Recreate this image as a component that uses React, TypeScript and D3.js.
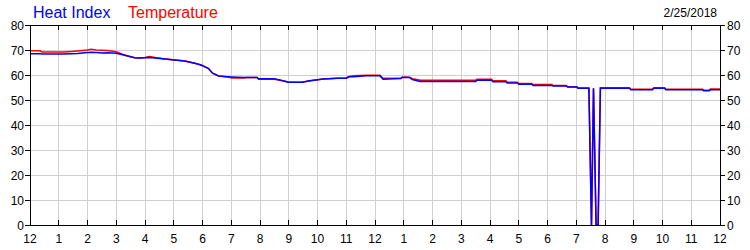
import React from "react";
import * as d3 from "d3";

const hours = [0,0.35,0.42,1.2,1.65,2.0,2.12,2.3,2.5,2.7,3.0,3.3,3.64,3.8,4.0,4.16,4.35,4.7,5.03,5.38,5.73,5.95,6.2,6.35,6.56,6.96,7.0,7.45,7.5,7.9,7.95,8.5,8.87,8.98,9.46,9.74,10.2,10.7,11.0,11.1,11.25,11.7,12.17,12.28,12.9,12.95,13.2,13.3,13.5,13.57,15.5,15.55,16.05,16.1,16.55,16.6,16.95,17.0,17.45,17.5,18.15,18.2,18.65,18.7,19.02,19.06,19.44,19.53,19.6,19.69,19.76,19.84,20.85,20.9,21.65,21.7,22.07,22.12,23.39,23.43,23.63,23.67,24.0];
const temperature = [69.7,69.7,69.2,69.2,69.6,70.0,70.3,70.0,69.9,69.8,69.3,67.9,66.9,66.8,67.0,67.4,67.0,66.4,66.0,65.6,64.7,64.0,62.7,60.7,59.6,59.1,58.8,58.8,59.0,59.0,58.3,58.3,57.5,57.1,57.1,57.7,58.4,58.7,58.8,59.4,59.7,59.9,59.9,58.7,58.7,59.1,59.1,58.5,58.1,57.9,57.9,58.3,58.3,57.7,57.7,57.1,57.1,56.6,56.6,56.2,56.2,55.8,55.8,55.3,55.3,54.8,54.8,0,54.7,0,0,54.9,54.9,54.3,54.3,54.9,54.9,54.3,54.3,53.9,53.9,54.4,54.4];
const heatIndex = [68.5,68.5,68.4,68.4,68.6,69.0,69.1,69.0,68.8,68.9,68.7,67.9,66.9,66.8,66.9,67.0,66.8,66.4,66.0,65.6,64.7,64.0,62.7,60.7,59.6,59.2,59.2,59.0,59.0,59.0,58.5,58.5,57.5,57.1,57.1,57.7,58.4,58.7,58.7,59.3,59.3,59.7,59.7,58.3,58.6,59.1,59.0,58.2,57.6,57.4,57.4,57.9,57.9,57.3,57.3,56.8,56.8,56.3,56.3,55.8,55.8,55.6,55.6,55.2,55.2,54.7,54.7,0,54.7,0,0,54.7,54.7,54.1,54.1,54.7,54.7,54.1,54.1,53.7,53.7,54.1,54.1];

const hourTicks = d3.range(0, 25);
const hourLabels = ["12","1","2","3","4","5","6","7","8","9","10","11","12","1","2","3","4","5","6","7","8","9","10","11","12"];
const valueTicks = [0,10,20,30,40,50,60,70,80];
const dateLabel = "2/25/2018";

export default function App() {
  const W = 750, H = 250;
  const m = { left: 30, right: 720, top: 25, bottom: 225 };
  const x = d3.scaleLinear().domain([0, 24]).range([m.left, m.right]);
  const y = d3.scaleLinear().domain([0, 80]).range([m.bottom, m.top]);
  const line = (vals: number[]) =>
    d3.line<number>().x((_, i) => x(hours[i])).y((v) => y(v))(vals) || "";
  const font = "'Liberation Sans', Arial, sans-serif";
  return (
    <svg width={W} height={H} style={{ position: "absolute", left: 0, top: 0, background: "#fff" }} fontFamily={font}>
      <rect x={0} y={0} width={W} height={H} fill="#fff" />
      {hourTicks.map((h) => (
        <line key={"gx" + h} x1={x(h)} x2={x(h)} y1={m.top} y2={m.bottom} stroke="#d0d0d0" strokeWidth={1} shapeRendering="crispEdges" />
      ))}
      {valueTicks.map((v) => (
        <line key={"gy" + v} x1={m.left} x2={m.right} y1={y(v)} y2={y(v)} stroke="#d0d0d0" strokeWidth={1} shapeRendering="crispEdges" />
      ))}
      <path d={line(temperature)} fill="none" stroke="#ff0000" strokeWidth={1.5} />
      <path d={line(heatIndex)} fill="none" stroke="#0000ff" strokeWidth={1.5} />
      <rect x={m.left} y={m.top} width={m.right - m.left} height={m.bottom - m.top} fill="none" stroke="#000" strokeWidth={1} shapeRendering="crispEdges" />
      {hourTicks.map((h) => (
        <g key={"tx" + h}>
          <line x1={x(h)} x2={x(h)} y1={m.bottom} y2={m.bottom - 5} stroke="#000" shapeRendering="crispEdges" />
          <line x1={x(h)} x2={x(h)} y1={m.top} y2={m.top + 5} stroke="#000" shapeRendering="crispEdges" />
          <text x={x(h)} y={243} fontSize={12} textAnchor="middle" fill="#000">{hourLabels[h]}</text>
        </g>
      ))}
      {valueTicks.map((v) => (
        <g key={"ty" + v}>
          <line x1={m.left - 5} x2={m.left} y1={y(v)} y2={y(v)} stroke="#000" shapeRendering="crispEdges" />
          <line x1={m.right} x2={m.right + 5} y1={y(v)} y2={y(v)} stroke="#000" shapeRendering="crispEdges" />
          <text x={24} y={y(v) + 4.5} fontSize={12} textAnchor="end" fill="#000">{v}</text>
          <text x={727} y={y(v) + 4.5} fontSize={12} textAnchor="start" fill="#000">{v}</text>
        </g>
      ))}
      <text x={33} y={18} fontSize={16} fill="#0000ff">Heat Index</text>
      <text x={128} y={18} fontSize={16} fill="#ff0000">Temperature</text>
      <text x={717} y={17} fontSize={12} textAnchor="end" fill="#000">{dateLabel}</text>
    </svg>
  );
}
